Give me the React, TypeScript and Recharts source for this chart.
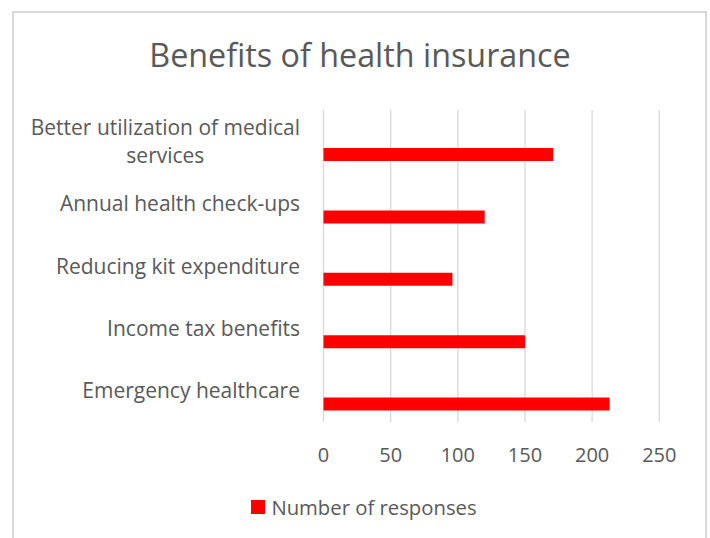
import React from 'react';
import { BarChart, Bar, XAxis, YAxis, CartesianGrid, Legend } from 'recharts';

const title = 'Benefits of health insurance';
const seriesName = 'Number of responses';
const categories = [
  'Better utilization of medical services',
  'Annual health check-ups',
  'Reducing kit expenditure',
  'Income tax benefits',
  'Emergency healthcare',
];
const responses = [171, 120, 96, 150, 213];
const xTicks = [0, 50, 100, 150, 200, 250];

const data = categories.map((c, i) => ({ category: c, responses: responses[i] }));

const FONT = '"Open Sans", Lato, sans-serif';
const TEXT = '#595959';
const GRID = '#d9d9d9';
const CAT_SIZE = 21;

let ctx: CanvasRenderingContext2D | null = null;
function measure(t: string, size: number): number {
  if (!ctx) ctx = document.createElement('canvas').getContext('2d');
  if (!ctx) return t.length * size * 0.5;
  ctx.font = `${size}px "Open Sans"`;
  return ctx.measureText(t).width;
}
function wrap(text: string, maxW: number, size: number): string[] {
  const words = text.split(' ');
  const lines: string[] = [];
  let cur = '';
  for (const w of words) {
    const t = cur ? cur + ' ' + w : w;
    if (measure(t, size) > maxW && cur) {
      lines.push(cur);
      cur = w;
    } else cur = t;
  }
  if (cur) lines.push(cur);
  return lines;
}

const CategoryTick = (props: any) => {
  const { x, y, payload } = props;
  const lines = wrap(String(payload.value), 292, CAT_SIZE);
  const blockW = Math.max(...lines.map((l) => measure(l, CAT_SIZE)));
  const cx = x - blockW / 2;
  const lh = 28;
  const first = y - ((lines.length - 1) * lh) / 2 + 7.5;
  return (
    <text textAnchor="middle" fill={TEXT} fontSize={CAT_SIZE} fontFamily={FONT}>
      {lines.map((l, i) => (
        <tspan key={i} x={cx} y={first + i * lh}>
          {l}
        </tspan>
      ))}
    </text>
  );
};

const LegendContent = (props: any) => {
  const items = (props.payload || []).filter((p: any) => p.type !== 'none');
  return (
    <div style={{ display: 'flex', justifyContent: 'center', alignItems: 'center', paddingLeft: 18 }}>
      {items.map((p: any, i: number) => (
        <div key={i} style={{ display: 'flex', alignItems: 'center' }}>
          <span style={{ width: 14, height: 14, background: p.color, display: 'inline-block', marginRight: 6 }} />
          <span style={{ fontFamily: FONT, fontSize: 20.3, color: TEXT, lineHeight: '24px' }}>{p.value}</span>
        </div>
      ))}
    </div>
  );
};

export default function App() {
  return (
    <div style={{ position: 'absolute', left: 0, top: 0, width: 710, height: 538, overflow: 'hidden', background: '#fff' }}>
      <div
        style={{
          position: 'absolute',
          left: 12,
          top: 11,
          width: 695,
          height: 560,
          border: `2px solid ${GRID}`,
          boxSizing: 'border-box',
        }}
      />
      <svg style={{ position: 'absolute', left: 0, top: 0 }} width={710} height={100}>
        <text x={360} y={66.7} textAnchor="middle" fill={TEXT} fontSize={32.3} fontFamily={FONT}>
          {title}
        </text>
      </svg>
      <div style={{ position: 'absolute', left: 0, top: 0 }}>
        <BarChart
          width={710}
          height={538}
          data={data}
          layout="vertical"
          margin={{ top: 110, right: 50.7, bottom: 76, left: 0 }}
          barGap={0}
        >
          <CartesianGrid horizontal={false} stroke={GRID} strokeWidth={1.3} />
          <XAxis
            type="number"
            domain={[0, 250]}
            ticks={xTicks}
            axisLine={false}
            tickLine={false}
            tickSize={0}
            tickMargin={25.5}
            height={40}
            tick={{ fill: TEXT, fontSize: 20, fontFamily: FONT }}
          />
          <YAxis
            type="category"
            dataKey="category"
            width={323.5}
            axisLine={false}
            tickLine={false}
            tickSize={0}
            tickMargin={23.5}
            interval={0}
            tick={<CategoryTick />}
          />
          <Legend
            layout="horizontal"
            verticalAlign="middle"
            align="center"
            wrapperStyle={{ top: 495, left: 0, width: 710 }}
            content={<LegendContent />}
          />
          <Bar dataKey="spacerTop" legendType="none" barSize={13} isAnimationActive={false} />
          <Bar dataKey="spacerMid" legendType="none" barSize={13} isAnimationActive={false} />
          <Bar dataKey="responses" name={seriesName} fill="#ff0000" barSize={13} isAnimationActive={false} />
        </BarChart>
      </div>
    </div>
  );
}
